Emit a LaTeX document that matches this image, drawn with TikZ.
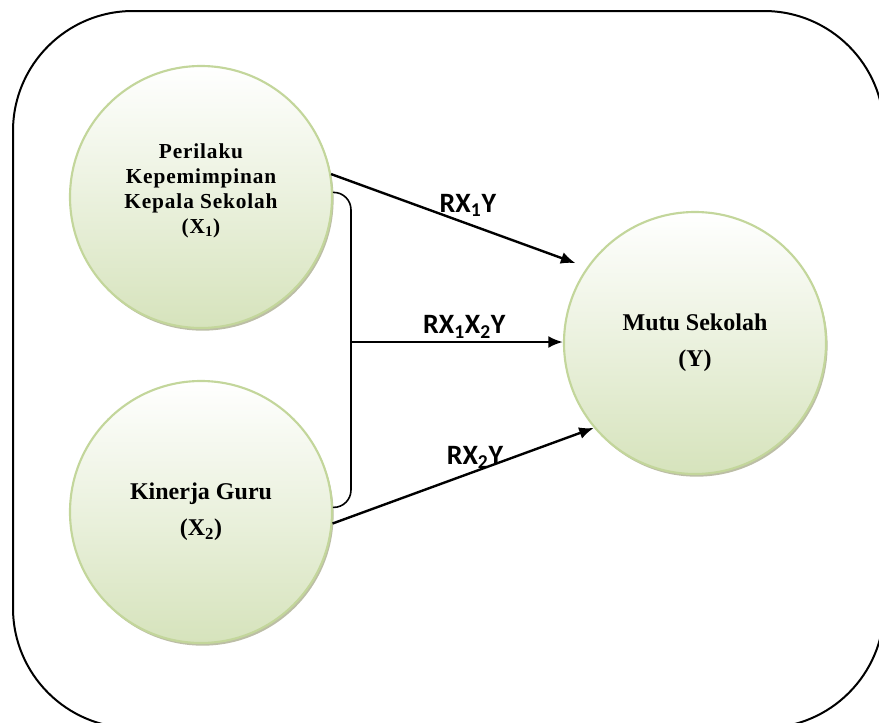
\documentclass[tikz,border=0pt]{standalone}
\usepackage{fontspec}
\setmainfont{Liberation Serif}
\newfontfamily\labelfont{Carlito}
\usetikzlibrary{arrows.meta,shadows}
\definecolor{circfill}{RGB}{214,227,188}
\definecolor{circline}{RGB}{195,214,155}
\definecolor{circshade}{RGB}{160,163,128}

\begin{document}
\begin{tikzpicture}[x=0.75pt,y=-0.75pt,
obj/.style={circle,draw=circline,line width=1.6pt,top color=white,bottom color=circfill,
  minimum size=196.5pt,inner sep=0pt,align=center,font=\bfseries\fontsize{18}{27}\selectfont,
  drop shadow={shadow xshift=1.2pt,shadow yshift=-2pt,fill=circshade,opacity=.7}},
smalltext/.style={font=\bfseries\fontsize{16}{18.75}\selectfont\addfontfeatures{LetterSpace=4}},
arrowlabel/.style={font=\labelfont\bfseries\fontsize{21}{25}\selectfont,inner sep=0pt},
arrow/.style={-{Latex[length=11pt,width=9pt]},line width=1.8pt},
frame/.style={line width=1.5pt,rounded corners=90pt},
bracket/.style={line width=1.2pt,rounded corners=13pt}]

\useasboundingbox (0,0) rectangle (879,722);
\clip (0,0) rectangle (879,722);

\draw[frame] (13,11) rectangle (884,728);

\node[obj,smalltext](X1) at (201,197) {Perilaku\\Kepemimpinan\\Kepala Sekolah\\(X\textsubscript{1})\\[-6pt]\mbox{}};

\node[obj](X2) at (201,512) {Kinerja Guru\\(X\textsubscript{2})};

\node[obj](Y) at (695,343) {Mutu Sekolah\\(Y)};

\draw[bracket] (X1.2) -- ++(18,0) |- (X2.2);

\coordinate (join) at (350,342);

\draw[arrow,shorten >=9pt] (X1.10) -- node[pos=.535,above=4.5pt,arrowlabel] {RX\textsubscript{1}Y} (Y.145);

\draw[arrow] (join) -- node[pos=.537,above=2pt,arrowlabel] {RX\textsubscript{1}X\textsubscript{2}Y} (join -| Y.west);

\draw[arrow] (X2.-5) -- node[pos=.545,above=1pt,arrowlabel] {RX\textsubscript{2}Y} (Y.220);

\end{tikzpicture}
\end{document}
